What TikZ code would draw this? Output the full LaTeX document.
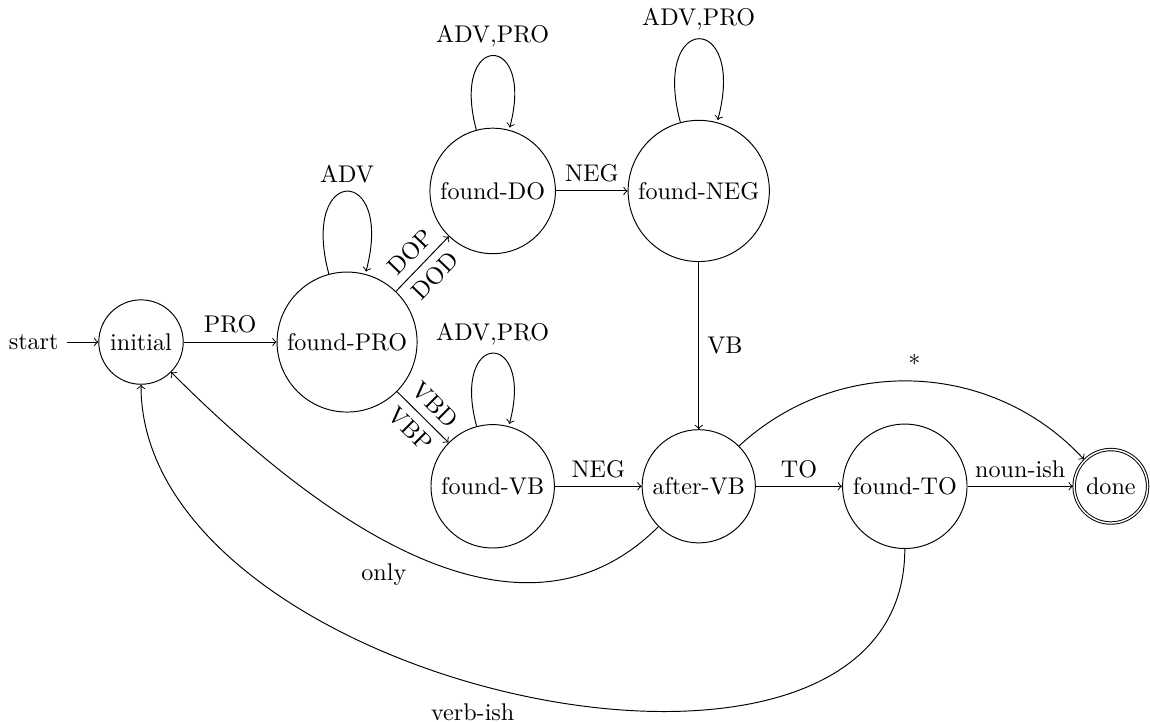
\documentclass[tikz,border=0pt]{standalone}
\usepackage{amsmath}
\usetikzlibrary{automata}

\begin{document}
\begin{tikzpicture}[
			->,
			auto,
			initial text=start
			]
			\useasboundingbox (-2.053,-5.53) rectangle (14.69,4.98);
			
			\node[state, initial] (initial) at (0,0) {initial};
			\node[state] (foundPRO) at (3,0) {found-PRO};
			\node[state] (foundDO) at (5.12,2.2) {found-DO};
			\node[state] (foundNEG) at (8.12,2.2) {found-NEG};
			\node[state] (foundVB) at (5.12,-2.1) {found-VB};
			\node[state] (afterVB) at (8.12,-2.1) {after-VB};
			\node[state] (foundTO) at (11.12,-2.1) {found-TO};
			\node[state, accepting] (done) at (14.12,-2.1) {done};
			
			\path (initial) edge node {PRO} (foundPRO)
			(foundPRO) edge [loop above] node {ADV} ()
			edge node[sloped, above] {DOP} node[sloped, below] {DOD} (foundDO)
			edge node[sloped, above] {VBD} node[sloped, below] {VBP} (foundVB)
			(foundDO) edge [loop above] node {ADV,PRO} ()
			edge node {NEG} (foundNEG)
			(foundNEG) edge [loop above] node {ADV,PRO} ()
			edge node {VB} (afterVB)
			(foundVB) edge [loop above] node {ADV,PRO} ()
			edge node {NEG} (afterVB)
			(afterVB) edge node {TO} (foundTO)
			edge [bend left=45] node {*} (done)
			edge [out=-135, in=-45] node {only} (initial)
			(foundTO) edge node {noun-ish} (done)
			edge [out=-90, in=-90] node {verb-ish} (initial);
		\end{tikzpicture}
\end{document}
